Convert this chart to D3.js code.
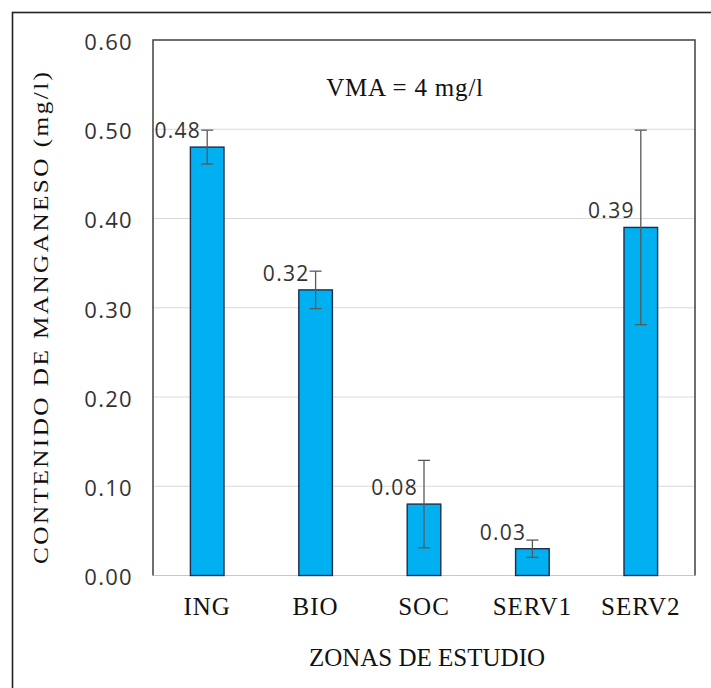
<!DOCTYPE html>
<html>
<head>
<meta charset="utf-8">
<script src="https://cdn.jsdelivr.net/npm/d3@7"></script>
<style>
  html, body { margin: 0; padding: 0; background: #fff; }
  svg { display: block; }
</style>
</head>
<body>
<svg id="chart" width="711" height="688"></svg>
<script>
// Manganese content by study zone (mg/l), with error margins
const zones = ["ING", "BIO", "SOC", "SERV1", "SERV2"];
const means = [0.48, 0.32, 0.08, 0.03, 0.39];
const errors = [0.019, 0.021, 0.049, 0.0097, 0.109];
const labels = ["0.48", "0.32", "0.08", "0.03", "0.39"];
const yTicks = [0, 0.1, 0.2, 0.3, 0.4, 0.5, 0.6];

const svg = d3.select("#chart");
const W = 711, H = 688;
const plot = { left: 153, top: 40, right: 695, bottom: 575.5 };
const serif = "'Liberation Serif', 'Times New Roman', serif";
const sans = "'Open Sans', 'Noto Sans', sans-serif";

// outer frame of the figure
svg.append("rect")
  .attr("x", 12.5).attr("y", 12.5)
  .attr("width", W + 20).attr("height", H + 20)
  .attr("fill", "none").attr("stroke", "#222").attr("stroke-width", 1.6);

const x = d3.scaleBand().domain(zones)
  .range([plot.left, plot.right]).paddingInner(0.69).paddingOuter(0.345);
const y = d3.scaleLinear().domain([0, 0.6]).range([plot.bottom, plot.top]);

// horizontal gridlines
svg.append("g").selectAll("line").data(yTicks.slice(1, -1)).join("line")
  .attr("x1", plot.left).attr("x2", plot.right)
  .attr("y1", d => y(d)).attr("y2", d => y(d))
  .attr("stroke", "#d9d9d9").attr("stroke-width", 1.2);

// baseline at zero
svg.append("line")
  .attr("x1", plot.left).attr("x2", plot.right)
  .attr("y1", y(0)).attr("y2", y(0))
  .attr("stroke", "#c8c8c8").attr("stroke-width", 1.2);

// plot frame: left, top, right
svg.append("path")
  .attr("d", `M${plot.left},${y(0)}V${plot.top}H${plot.right}V${y(0)}`)
  .attr("fill", "none").attr("stroke", "#404040").attr("stroke-width", 1.5);

// y axis tick labels
const yAxis = d3.axisLeft(y).tickValues(yTicks).tickFormat(d3.format(".2f"))
  .tickSize(0).tickPadding(20);
svg.append("g").attr("transform", `translate(${plot.left},0)`).call(yAxis)
  .call(g => g.select(".domain").remove())
  .selectAll("text")
  .attr("font-family", sans).attr("font-size", 22)
  .attr("letter-spacing", 1.3).attr("fill", "#333").attr("dy", "0.42em");

// x axis category labels
const xAxis = d3.axisBottom(x).tickSize(0).tickPadding(22);
svg.append("g").attr("transform", `translate(0,${y(0)})`).call(xAxis)
  .call(g => g.select(".domain").remove())
  .selectAll("text")
  .attr("font-family", serif).attr("font-size", 25)
  .attr("letter-spacing", 1).attr("fill", "#111");

// bars
svg.append("g").selectAll("rect").data(zones).join("rect")
  .attr("x", d => x(d)).attr("width", x.bandwidth())
  .attr("y", (d, i) => y(means[i]))
  .attr("height", (d, i) => y(0) - y(means[i]))
  .attr("fill", "#00b0f0").attr("stroke", "#1f2d4a").attr("stroke-width", 1.4);

// error bars
const eb = svg.append("g").attr("stroke", "#595959").attr("stroke-width", 1.3);
zones.forEach((z, i) => {
  const cx = x(z) + x.bandwidth() / 2;
  const hi = y(means[i] + errors[i]), lo = y(means[i] - errors[i]);
  eb.append("line").attr("x1", cx).attr("x2", cx).attr("y1", hi).attr("y2", lo);
  eb.append("line").attr("x1", cx - 6).attr("x2", cx + 6).attr("y1", hi).attr("y2", hi);
  eb.append("line").attr("x1", cx - 6).attr("x2", cx + 6).attr("y1", lo).attr("y2", lo);
});

// value labels
svg.append("g").selectAll("text").data(zones).join("text")
  .attr("x", d => x(d) + x.bandwidth() / 2 - 6)
  .attr("y", (d, i) => y(means[i]) - 9)
  .attr("text-anchor", "end")
  .attr("font-family", sans).attr("font-size", 21)
  .attr("letter-spacing", 1.3).attr("fill", "#333")
  .text((d, i) => labels[i]);

// annotation
svg.append("text")
  .attr("x", 405).attr("y", 96).attr("text-anchor", "middle")
  .attr("font-family", serif).attr("font-size", 25)
  .attr("letter-spacing", 0.8).attr("fill", "#111")
  .text("VMA  = 4 mg/l");

// axis titles
svg.append("text")
  .attr("x", 427).attr("y", 666).attr("text-anchor", "middle")
  .attr("font-family", serif).attr("font-size", 25).attr("fill", "#111")
  .text("ZONAS DE ESTUDIO");

svg.append("text")
  .attr("transform", `translate(48,318) rotate(-90) scale(1.2,1)`)
  .attr("text-anchor", "middle")
  .attr("font-family", serif).attr("font-size", 21).attr("fill", "#111")
  .attr("textLength", 410).attr("lengthAdjust", "spacing")
  .text("CONTENIDO DE MANGANESO (mg/l)");
</script>
</body>
</html>
